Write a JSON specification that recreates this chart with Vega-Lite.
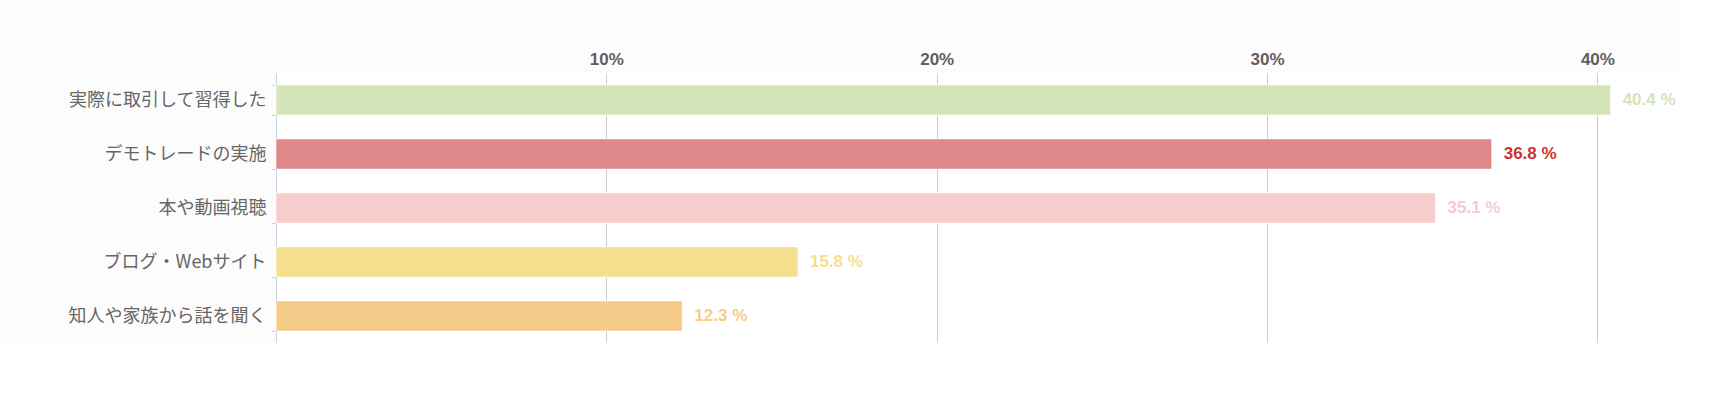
{
  "$schema": "https://vega.github.io/schema/vega-lite/v6.json",
  "autosize": {"type": "none"},
  "padding": {"left": 276, "top": 73, "right": 0, "bottom": 0},
  "width": 1404,
  "height": 270,
  "background": "#fcfcfc",
  "config": {"view": {"fill": "white", "stroke": null}},
  "data": {"values": [
    {"item": "実際に取引して習得した", "value": 40.4},
    {"item": "デモトレードの実施", "value": 36.8},
    {"item": "本や動画視聴", "value": 35.1},
    {"item": "ブログ・Webサイト", "value": 15.8},
    {"item": "知人や家族から話を聞く", "value": 12.3}
  ]},
  "transform": [{"calculate": "format(datum.value, '.1f') + ' %'", "as": "label"}],
  "encoding": {
    "y": {
      "field": "item", "type": "nominal", "sort": null,
      "scale": {"paddingInner": 0.44, "paddingOuter": 0.22},
      "axis": {
        "title": null, "labelFont": "Noto Sans CJK JP", "labelFontSize": 18, "labelColor": "#666666",
        "labelLimit": 0,
        "domainColor": "#c5d3e6", "tickColor": "#c5d3e6", "tickSize": 5, "tickBand": "extent",
        "labelPadding": 5, "grid": false
      }
    },
    "x": {
      "field": "value", "type": "quantitative",
      "scale": {"domain": [0, 42.5], "nice": false},
      "axis": {
        "orient": "top", "title": null, "values": [10, 20, 30, 40],
        "labelExpr": "datum.value + '%'",
        "labelFont": "Liberation Sans", "labelFontWeight": "bold", "labelFontSize": 17, "labelColor": "#5f5f5f",
        "domain": false, "ticks": false, "labelPadding": 5,
        "grid": true, "gridColor": "#cccccc", "gridWidth": 1
      }
    }
  },
  "layer": [
    {
      "mark": {"type": "bar", "stroke": "white", "strokeOpacity": 0.6, "strokeWidth": 1},
      "encoding": {
        "color": {
          "field": "item", "type": "nominal", "legend": null,
          "scale": {
            "domain": ["実際に取引して習得した", "デモトレードの実施", "本や動画視聴", "ブログ・Webサイト", "知人や家族から話を聞く"],
            "range": ["#d3e5b9", "#df898a", "#f6cccd", "#f5df8f", "#f7cc8a"]
          }
        }
      }
    },
    {
      "mark": {"type": "text", "align": "left", "baseline": "middle", "dx": 12, "font": "Liberation Sans", "fontWeight": "bold", "fontSize": 17},
      "encoding": {
        "text": {"field": "label"},
        "color": {
          "field": "item", "type": "nominal", "legend": null,
          "scale": {
            "domain": ["実際に取引して習得した", "デモトレードの実施", "本や動画視聴", "ブログ・Webサイト", "知人や家族から話を聞く"],
            "range": ["#d3e5b9", "#d0302f", "#f6cccd", "#f5df8f", "#f7cc8a"]
          }
        }
      }
    }
  ],
  "resolve": {"scale": {"color": "independent"}}
}
